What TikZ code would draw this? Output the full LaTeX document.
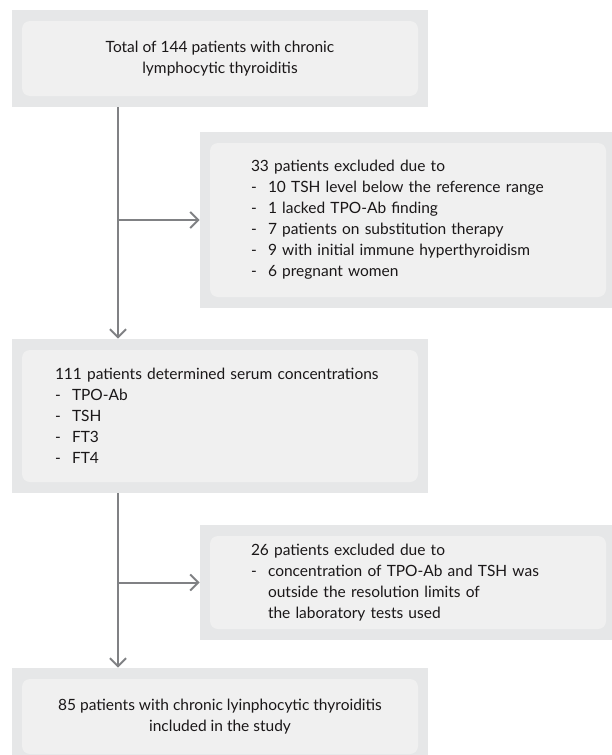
\documentclass[tikz,border=0pt]{standalone}
\usepackage{fontspec}
\setmainfont{Lato}
\usepackage{tikz}
\usetikzlibrary{arrows.meta,calc,positioning,backgrounds,fit}

\definecolor{outergray}{HTML}{E6E7E8}
\definecolor{innergray}{HTML}{F0F0F0}
\definecolor{linegray}{HTML}{808184}
\definecolor{textblack}{HTML}{1A1718}

\newcommand{\listdash}{\makebox[17pt][l]{-}}
\newcommand{\listgap}{\hspace*{17pt}}

\tikzset{
  stepbox/.style={fill=innergray, rounded corners=8pt, inner ysep=0pt,
    minimum width=396pt, text=textblack,
    font=\fontsize{15.5}{21}\selectfont},
  listbox/.style={stepbox, align=left},
  outerbox/.style={fill=outergray, inner xsep=10pt, inner ysep=11pt},
  flow/.style={draw=linegray, line width=2pt,
    -{Straight Barb[length=8pt, width=16pt]}}
}

\begin{document}
\begin{tikzpicture}[x=1pt, y=-1pt]
  \clip (0,0) rectangle (611,755);
  \coordinate (spine) at (118,0);

  \node[stepbox, align=center, minimum height=75pt] (total) at (220,58.5) {
    Total of 144 patients with chronic\\
    lymphocytic thyroiditis
  };

  \node[listbox, minimum height=154pt, inner xsep=41pt, text width=314pt] (excl1) at (408,220) {
    33 patients excluded due to\\
    \listdash 10 TSH level below the reference range\\
    \listdash 1 lacked TPO-Ab finding\\
    \listdash 7 patients on substitution therapy\\
    \listdash 9 with initial immune hyperthyroidism\\
    \listdash 6 pregnant women
  };

  \node[listbox, minimum height=132pt, inner xsep=33pt, text width=330pt] (serum) at (220,416) {
    111 patients determined serum concentrations\\
    \listdash TPO-Ab\\
    \listdash TSH\\
    \listdash FT3\\
    \listdash FT4
  };

  \node[listbox, minimum height=93pt, inner xsep=41pt, text width=314pt] (excl2) at (408,582.5) {
    26 patients excluded due to\\
    \listdash concentration of TPO-Ab and TSH was\\
    \listgap outside the resolution limits of\\
    \listgap the laboratory tests used
  };

  \node[stepbox, align=center, minimum height=75pt] (incl) at (220,716.5) {
    85 patients with chronic lyinphocytic thyroiditis\\
    included in the study
  };

  % gray frames behind the boxes
  \begin{scope}[on background layer]
    \node[outerbox, fit=(total)] (totalbg) {};
    \node[outerbox, fit=(excl1)] (excl1bg) {};
    \node[outerbox, fit=(serum)] (serumbg) {};
    \node[outerbox, fit=(excl2)] (excl2bg) {};
    \node[outerbox, fit=(incl)] (inclbg) {};
  \end{scope}

  \draw[flow] (totalbg.south -| spine) -- (serumbg.north -| spine);
  \draw[flow] (spine |- excl1) -- (excl1bg.west);
  \draw[flow] (serumbg.south -| spine) -- (inclbg.north -| spine);
  \draw[flow] (spine |- excl2) -- (excl2bg.west);
\end{tikzpicture}
\end{document}
